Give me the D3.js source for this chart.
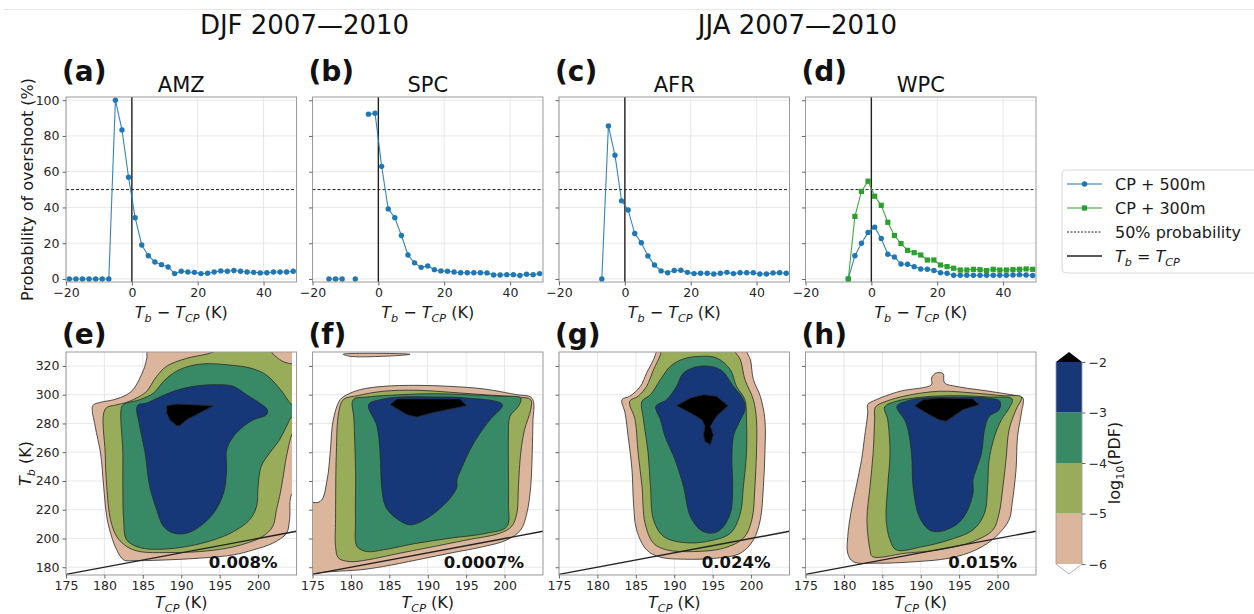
<!DOCTYPE html>
<html><head><meta charset="utf-8">
<script src="https://cdn.jsdelivr.net/npm/d3@7"></script>
<style>body{margin:0;background:#fff;} text{font-family:"DejaVu Sans",sans-serif;}</style>
</head><body><svg id="c" width="1254" height="614"></svg>
<script>
// ---------------- data ----------------
const regions = ["AMZ", "SPC", "AFR", "WPC"];
const topLetters = ["(a)", "(b)", "(c)", "(d)"];
const botLetters = ["(e)", "(f)", "(g)", "(h)"];
const seasonTitles = ["DJF 2007\u20142010", "JJA 2007\u20142010"];
const dT = [-19,-17,-15,-13,-11,-9,-7,-5,-3,-1,1,3,5,7,9,11,13,15,17,19,21,23,25,27,29,31,33,35,37,39,41,43,45,47,49];
const amz500 = [0,0,0,0,0,0,0,100,83.4,56.9,34.3,19,13,9.5,8,6.7,3,4.3,3.9,3.7,3,3.2,3.9,4.5,4.3,4.7,4.3,3.9,3.7,3.4,3.5,3.9,3.9,3.9,4.3];
const spc500 = [null,null,0,0,0,null,0,null,92.2,92.7,63,39.2,34.3,24.3,13.4,9,6.5,7.3,5.2,4.5,4.3,3.9,3.5,3.5,3.5,3.5,3.4,2.2,2.2,2.4,2.4,1.9,2.6,2.4,3];
const afr500 = [null,null,null,null,null,null,0,85.6,69.2,43.7,38.6,25.4,20.3,12.9,7.8,4.5,3.5,4.7,4.9,3.7,3,3.2,3.2,2.8,3.2,3.7,3,3.5,3.5,3.5,2.8,2.8,3.4,3.5,3.2];
const wpc500 = [null,null,null,null,null,null,0,13,20,26,29,22.6,13.8,12.3,8.4,8.2,6.9,5.6,5.4,4.7,3.5,3.2,2.1,2.1,2.1,2.1,2.1,2.1,2.1,2.1,2.1,2.2,2.4,2.2,1.9];
const wpc300 = [null,null,null,null,null,null,0,35,49,54.7,46.3,41.2,31.7,24.3,19.8,16,14.7,13.4,10.6,10.6,7.8,6.9,6,5,5,5.4,5.2,4.7,5.4,5,5,5.2,5.4,5.6,5.4];
const topXTicks = [-20, 0, 20, 40];
const topYTicks = [0, 20, 40, 60, 80, 100];
const botXTicks = [175, 180, 185, 190, 195, 200];
const botYTicks = [180, 200, 220, 240, 260, 280, 300, 320];
const cbTicks = [-6, -5, -4, -3, -2];
const levelColors = ["#dcb69c", "#98ac5a", "#378a65", "#163878", "#000000"];
const fractions = ["0.008%", "0.0007%", "0.024%", "0.015%"];
const legendLabels = ["CP + 500m", "CP + 300m", "50% probability"];
const pdfGridMaxTcp = 204.4; // last T_CP of the PDF grid

// contour rings (T_CP, T_b) per log10(PDF) level: -6, -5, -4, -3, -2
const amzTan = [[178.5,292.4],[179.5,294.7],[181.2,296.5],[182.9,300],[183.8,304],[185.1,317.4],[185.5,324.9],[185.8,332],[207,332],[207,231.5],[204.5,231.5],[204.1,213],[203.7,203.7],[201.9,196.7],[199.4,192.1],[196.8,188.6],[192.4,186.3],[188.1,185.1],[183.8,184.6],[182.5,185.1],[181.6,192.1],[180.8,203.7],[180.3,215.3],[179.9,236.2],[179.5,259.4],[178.8,278]];
const amzOlive = [[180.1,290],[181.6,293],[182.9,294.7],[184.6,298.9],[185.5,302.4],[186.8,312.8],[188.1,319.8],[190.7,325.3],[193.5,328.5],[195.5,332],[201.2,332],[202.2,327],[203.5,322.5],[206,320.6],[207,320],[207,275.4],[205,275.4],[204.5,273.3],[203.7,257.1],[203.2,240.8],[202.8,229.2],[202.4,220],[201.9,208.3],[200.6,201.4],[198.5,196.7],[195.9,193.2],[192.4,190.9],[188.1,190.2],[184.6,190.9],[182.9,194.4],[181.6,201.4],[180.8,213],[180.3,236.2],[180.1,259.4]];
const amzGreen = [[182.3,292.4],[182.9,294.2],[184.6,296.5],[186.4,301.2],[187.7,309.3],[189,315.1],[190.7,319.3],[193,321.5],[196.4,320.6],[199,318.5],[201,314],[203,303],[204.4,293],[206,288.5],[207,287.3],[206,286],[204.4,284.5],[203.7,278],[202.8,268.7],[201.5,259.4],[200.4,250.1],[200,236.2],[199.8,222.3],[198.9,213],[196.8,204.8],[194.2,199],[190.7,194.4],[187.2,192.5],[184.6,193.7],[182.9,199],[182.5,213],[182.4,236.2],[182.4,259.4]];
const amzBlue = [[184.3,292.4],[185.5,294.2],[187.2,298.4],[189,302.4],[191.6,305.8],[194.6,307],[196.8,305.8],[198.5,300],[200.2,294.2],[201.2,289.6],[201.1,286.1],[199.4,282.6],[198.1,278],[196.8,271],[195.9,261.7],[195.9,247.8],[195.5,231.5],[194.2,217.6],[192.4,208.3],[190.7,203.7],[189,203.7],[187.7,208.3],[186.8,220],[185.9,236.2],[185.3,259.4],[184.6,278]];
const amzBlack = [[188.1,292.4],[189.4,293.5],[194.2,292.4],[192.4,287.3],[190.7,282.6],[189.8,278.4],[189.4,278.4],[188.5,282.6],[188.1,287.3]];

const spcTanTop = [[179,328.1],[182.1,328.8],[187.7,328.1],[184.2,326.7],[179.9,326.7]];
const spcTan = [[176,225.7],[176.9,240.8],[177.3,259.4],[177.7,282.6],[178.6,296.5],[179.5,300],[181.2,303.5],[184.2,305.8],[188.6,306.5],[192.9,305.8],[197.3,304],[201.6,300],[203.4,298.4],[203.8,294.2],[203.7,282.6],[203.6,259.4],[203.4,236.2],[202.9,217.6],[202.1,206],[200.3,199],[197.3,194.4],[192.9,189.8],[188.6,185.1],[184.2,180.5],[181.2,178.2],[177.7,177],[175.5,175.8],[173,172],[173,224.6]];
const spcOlive = [[178,213],[178.1,259.4],[178.4,287.3],[179,296.5],[180.8,299.3],[184.2,302.4],[188.6,303.1],[192.9,301.7],[197.3,300],[201.6,298.4],[203.4,296.5],[203.4,289.6],[202.6,275.7],[202.1,259.4],[201.8,236.2],[201.6,217.6],[200.9,208.3],[199.4,203.7],[195.1,199],[190.8,194.4],[186.4,189.8],[182.1,185.1],[179.9,183.9],[178.4,186.3],[178,194.4]];
const spcGreen = [[180.3,296.5],[182.1,298.4],[186.4,300],[190.8,300.7],[195.1,300],[199.4,298.9],[202.1,297.7],[201.8,291.9],[200.7,284.9],[200.5,271],[200.5,247.8],[200.5,224.6],[200.3,208.3],[197.7,203.7],[192.9,200.2],[188.6,196.7],[184.2,192.1],[182.1,190.9],[180.8,194.4],[180.6,213],[180.6,247.8],[180.4,282.6]];
const spcBlue = [[182.3,293.1],[183.8,296.5],[186.4,298.4],[190.8,298.4],[195.1,297.7],[199.7,293.1],[198.1,282.6],[196.8,273.3],[195.5,261.7],[194.5,250.1],[193.8,240.8],[193.8,236.2],[193.4,231.5],[192.1,223.4],[189.9,214.1],[187.7,209.5],[185.6,215.3],[184.5,222.3],[184,236.2],[183.8,259.4],[183.4,278]];
const spcBlack = [[185.1,293.1],[186,297],[194.2,297],[195.1,292.4],[190.8,287.7],[188.6,284.5],[187.3,286.1]];

const afrTan = [[183.2,296.5],[184.2,298.9],[185.6,305.8],[186.4,315.1],[187.3,324.4],[187.7,330.2],[187.9,334],[199.3,334],[199.4,330.2],[199.9,324.4],[200.3,310.5],[201.2,298.9],[201.8,282.6],[201.8,259.4],[201.6,236.2],[201.2,213],[200.3,199],[198.6,189.7],[195.5,186.3],[191.2,185.6],[188.2,187],[186.4,192.1],[185.1,206],[184.7,224.6],[184.5,247.8],[184,271],[183.6,287.3]];
const afrOlive = [[184.2,295.4],[185.3,298.9],[186.4,305.8],[187.3,317.4],[188.2,327.9],[188.4,334],[197.8,334],[197.9,330.2],[198.6,324.4],[199.2,310.5],[200.3,296.5],[200.7,282.6],[200.7,259.4],[200.5,236.2],[200.1,213],[199,200.2],[196.4,193.2],[192.5,190.9],[189,192.1],[187.3,196.7],[186.2,210.6],[185.8,236.2],[185.3,259.4],[184.9,282.6]];
const afrGreen = [[185.8,295.4],[186.9,300],[188.2,310.5],[189.5,319.8],[191.2,324.9],[193.4,326.7],[195.5,325.6],[197.3,317.4],[198.1,305.8],[199.2,296.5],[199.4,282.6],[199.4,259.4],[199,236.2],[198.6,217.6],[197.3,203.7],[194.2,197.9],[191.2,197.2],[188.6,201.4],[187.3,213],[186.9,236.2],[186.6,259.4],[186,282.6]];
const afrBlue = [[187.6,291.9],[189,296.5],[190.3,305.8],[191.2,315.1],[193.4,319.8],[196,317.4],[197.7,305.8],[199,296.5],[199.2,289.6],[198.4,280.3],[197.7,271],[197.5,254.8],[197.6,236.2],[197.3,217.6],[196,206],[194.7,203.7],[193.4,206],[192.1,215.3],[191.2,236.2],[190.1,254.8],[188.8,271],[188.2,282.6]];
const afrBlack = [[190.3,292.4],[192.1,297.7],[193.8,300],[195.5,298.9],[197,292.4],[195.5,285],[194.7,278],[195.1,272.2],[194.7,265.2],[194,267.5],[193.8,272.2],[194,278],[193.6,282.6],[192.1,287.3]];

const wpcTan = [[183.1,293.1],[184.2,296.5],[187.3,302.4],[191.4,307],[191.4,311.6],[192,315.1],[192.9,314.7],[193.1,308.2],[194.6,305.8],[198.9,302.4],[202.4,299.3],[203.3,297.7],[203.1,287.3],[202.6,271],[202.4,247.8],[201.9,224.6],[201.5,213],[199.8,201.4],[197.2,192.1],[193.7,186.3],[189.4,183.9],[184.2,182.8],[181.2,183.9],[180.5,189.7],[180.5,201.4],[180.9,217.6],[181.6,236.2],[182.3,254.8],[182.7,271],[183.1,287.3]];
const wpcOlive = [[184.1,291.4],[185.5,295.4],[188.1,299.3],[192.4,302.4],[196.8,301.2],[200.7,299.3],[203.1,298.4],[202.4,289.6],[201.5,275.7],[201.1,254.8],[200.7,236.2],[200.2,217.6],[199.4,206],[196.8,197.9],[192.4,192.1],[188.1,189.8],[183.7,187.4],[183.4,192.1],[183,213],[183.4,236.2],[183.8,259.4],[184,282.6]];
const wpcGreen = [[185.3,291.4],[186.8,295.4],[190.3,298.4],[194.6,299.3],[198.9,298.4],[201.9,297],[201.5,290.7],[200.5,282.6],[199.6,271],[198.9,254.8],[198.7,236.2],[198.3,217.6],[196.8,206],[193.7,199],[190.3,194.4],[186.8,192.1],[186,199],[185.5,213],[185.7,236.2],[186,259.4],[185.7,282.6]];
const wpcBlue = [[186.9,291.9],[188.1,295.4],[190.3,297.7],[194.6,298.2],[198.9,297.5],[200.3,295.4],[200.2,289.6],[198.9,284.9],[198.3,275.7],[197.9,259.4],[197.2,247.8],[196.8,240.8],[196.8,231.5],[195.9,217.6],[194.6,209.5],[192.4,204.8],[191.1,206],[189.8,215.3],[189,236.2],[188.8,259.4],[188.1,280.3]];
const wpcBlack = [[189.2,292.4],[190.3,296.5],[192.4,297.7],[196.8,297],[197.6,293.1],[195.5,289.6],[193.3,281.5],[192.4,282.6],[191.1,286.1]];

const amzPdf = [[amzTan], [amzOlive], [amzGreen], [amzBlue], [amzBlack]];
const spcPdf = [[spcTan, spcTanTop], [spcOlive], [spcGreen], [spcBlue], [spcBlack]];
const afrPdf = [[afrTan], [afrOlive], [afrGreen], [afrBlue], [afrBlack]];
const wpcPdf = [[wpcTan], [wpcOlive], [wpcGreen], [wpcBlue], [wpcBlack]];

// ---------------- layout ----------------
const svg = d3.select("#c");
const lefts = [66, 312.5, 559, 805.5];
const W = 230.5;
const TOP = {y0: 97, y1: 282};
const BOT = {y0: 352, y1: 575};
const FONT = "DejaVu Sans";
const tickCol = "#262626";
const frameCol = "#9a9a9a";
const gridCol = "#e2e2e2";
const blue = "#1f77b4", green = "#2ca02c";

svg.append("rect").attr("width", 1254).attr("height", 614).attr("fill", "#fff");
svg.append("line").attr("x1", 4).attr("x2", 1254).attr("y1", 9.5).attr("y2", 9.5).attr("stroke", "#e6e6e6").attr("stroke-width", 1);

seasonTitles.forEach((t, i) => {
  const cx = (lefts[2 * i] + lefts[2 * i + 1] + W) / 2;
  svg.append("text").attr("x", cx).attr("y", 34).attr("text-anchor", "middle")
    .attr("font-size", 26).attr("fill", "#111").text(t);
});

function mathText(g, x, y, segs, size, anchor) {
  const t = g.append("text").attr("x", x).attr("y", y).attr("font-size", size)
    .attr("text-anchor", anchor || "middle").attr("fill", "#1a1a1a");
  let shift = 0;
  segs.forEach(s => {
    const sp = t.append("tspan").text(s.t);
    if (s.it) sp.attr("font-style", "italic");
    const want = s.sub ? size * 0.28 : 0;
    if (want !== shift) { sp.attr("dy", want - shift); shift = want; }
    if (s.sub) sp.attr("font-size", size * 0.7);
  });
  return t;
}

function styleAxis(g) {
  g.select(".domain").remove();
  g.selectAll(".tick line").attr("stroke", "#555").attr("stroke-width", 0.9);
  g.selectAll(".tick text").attr("fill", tickCol).attr("font-size", 12.5).attr("font-family", FONT);
}

// ---------------- top panels ----------------
const topSeries = [[amz500], [spc500], [afr500], [wpc500, wpc300]];
const topY = d3.scaleLinear([-1.7, 101.8], [TOP.y1, TOP.y0]);

regions.forEach((reg, i) => {
  const x = d3.scaleLinear([-20, 50], [lefts[i], lefts[i] + W]);
  const g = svg.append("g");
  g.append("rect").attr("x", lefts[i]).attr("y", TOP.y0).attr("width", W).attr("height", TOP.y1 - TOP.y0).attr("fill", "#fff");
  topXTicks.forEach(v => g.append("line").attr("x1", x(v)).attr("x2", x(v)).attr("y1", TOP.y0).attr("y2", TOP.y1).attr("stroke", gridCol).attr("stroke-width", 0.8));
  topYTicks.forEach(v => g.append("line").attr("x1", lefts[i]).attr("x2", lefts[i] + W).attr("y1", topY(v)).attr("y2", topY(v)).attr("stroke", gridCol).attr("stroke-width", 0.8));
  g.append("line").attr("x1", lefts[i]).attr("x2", lefts[i] + W).attr("y1", topY(50)).attr("y2", topY(50))
    .attr("stroke", "#222").attr("stroke-width", 1).attr("stroke-dasharray", "3,2");
  g.append("line").attr("x1", x(0)).attr("x2", x(0)).attr("y1", TOP.y0).attr("y2", TOP.y1).attr("stroke", "#222").attr("stroke-width", 1.4);
  const cp = `clipTop${i}`;
  svg.append("clipPath").attr("id", cp).append("rect").attr("x", lefts[i]).attr("y", TOP.y0 - 4).attr("width", W).attr("height", TOP.y1 - TOP.y0 + 8);
  const sg = g.append("g").attr("clip-path", `url(#${cp})`);
  topSeries[i].forEach((vals, k) => {
    const col = k === 0 ? blue : green;
    const pts = dT.map((d, j) => [d, vals[j]]);
    const line = d3.line().defined(d => d[1] != null).x(d => x(d[0])).y(d => topY(d[1]));
    sg.append("path").attr("d", line(pts)).attr("fill", "none").attr("stroke", col).attr("stroke-width", 1.1).attr("opacity", 0.9);
    const valid = pts.filter(d => d[1] != null);
    if (k === 0) {
      sg.selectAll(null).data(valid).enter().append("circle").attr("cx", d => x(d[0])).attr("cy", d => topY(d[1])).attr("r", 2.7).attr("fill", col);
    } else {
      sg.selectAll(null).data(valid).enter().append("rect").attr("x", d => x(d[0]) - 2.6).attr("y", d => topY(d[1]) - 2.6).attr("width", 5.2).attr("height", 5.2).attr("fill", col);
    }
  });
  g.append("rect").attr("x", lefts[i]).attr("y", TOP.y0).attr("width", W).attr("height", TOP.y1 - TOP.y0).attr("fill", "none").attr("stroke", frameCol).attr("stroke-width", 1);
  const ax = g.append("g").attr("transform", `translate(0,${TOP.y1})`).call(d3.axisBottom(x).tickValues(topXTicks).tickSize(3.5).tickPadding(3));
  styleAxis(ax);
  const ay = g.append("g").attr("transform", `translate(${lefts[i]},0)`).call(d3.axisLeft(topY).tickValues(topYTicks).tickSize(3.5).tickPadding(3).tickFormat(i === 0 ? d3.format("d") : () => ""));
  styleAxis(ay);
  g.append("text").attr("x", lefts[i] + W / 2).attr("y", 92).attr("text-anchor", "middle").attr("font-size", 21).attr("fill", "#111").text(reg);
  g.append("text").attr("x", lefts[i] - 4).attr("y", 81).attr("font-size", 28).attr("font-weight", "bold").attr("fill", "#111").text(topLetters[i]);
  mathText(g, lefts[i] + W / 2, 318, [{t: "T", it: true}, {t: "b", it: true, sub: true}, {t: " \u2212 "}, {t: "T", it: true}, {t: "CP", it: true, sub: true}, {t: " (K)"}], 16);
});
svg.append("text").attr("transform", `translate(27,${(TOP.y0 + TOP.y1) / 2}) rotate(-90)`).attr("text-anchor", "middle")
  .attr("dy", "0.35em").attr("font-size", 16).attr("fill", "#1a1a1a").text("Probability of overshoot (%)");

// legend
const lg = svg.append("g");
lg.append("rect").attr("x", 1062).attr("y", 170).attr("width", 205).attr("height", 103).attr("rx", 4)
  .attr("fill", "#fff").attr("stroke", "#d8d8d8").attr("stroke-width", 1);
const legY = [184, 208, 232, 256];
[blue, green].forEach((c, k) => {
  lg.append("line").attr("x1", 1067).attr("x2", 1102).attr("y1", legY[k]).attr("y2", legY[k]).attr("stroke", c).attr("stroke-width", 1.1);
  if (k === 0) lg.append("circle").attr("cx", 1084.5).attr("cy", legY[k]).attr("r", 2.7).attr("fill", c);
  else lg.append("rect").attr("x", 1084.5 - 2.6).attr("y", legY[k] - 2.6).attr("width", 5.2).attr("height", 5.2).attr("fill", c);
});
lg.append("line").attr("x1", 1067).attr("x2", 1102).attr("y1", legY[2]).attr("y2", legY[2]).attr("stroke", "#222").attr("stroke-width", 1).attr("stroke-dasharray", "2,1.5");
lg.append("line").attr("x1", 1067).attr("x2", 1102).attr("y1", legY[3]).attr("y2", legY[3]).attr("stroke", "#222").attr("stroke-width", 1.6);
legendLabels.forEach((t, k) => lg.append("text").attr("x", 1115).attr("y", legY[k] + 6).attr("font-size", 16).attr("fill", "#1a1a1a").text(t));
mathText(lg, 1115, legY[3] + 6, [{t: "T", it: true}, {t: "b", it: true, sub: true}, {t: " = "}, {t: "T", it: true}, {t: "CP", it: true, sub: true}], 16, "start");

// ---------------- bottom panels ----------------
const pdfs = [amzPdf, spcPdf, afrPdf, wpcPdf];
const botY = d3.scaleLinear([174.6, 329.7], [BOT.y1, BOT.y0]);

regions.forEach((reg, i) => {
  const x = d3.scaleLinear([175, 205], [lefts[i], lefts[i] + W]);
  const g = svg.append("g");
  g.append("rect").attr("x", lefts[i]).attr("y", BOT.y0).attr("width", W).attr("height", BOT.y1 - BOT.y0).attr("fill", "#fff");
  botXTicks.forEach(v => g.append("line").attr("x1", x(v)).attr("x2", x(v)).attr("y1", BOT.y0).attr("y2", BOT.y1).attr("stroke", gridCol).attr("stroke-width", 0.8));
  botYTicks.forEach(v => g.append("line").attr("x1", lefts[i]).attr("x2", lefts[i] + W).attr("y1", botY(v)).attr("y2", botY(v)).attr("stroke", gridCol).attr("stroke-width", 0.8));
  const cp = `clipBot${i}`;
  svg.append("clipPath").attr("id", cp).append("rect").attr("x", lefts[i]).attr("y", BOT.y0).attr("width", x(pdfGridMaxTcp) - lefts[i]).attr("height", BOT.y1 - BOT.y0);
  const cg = g.append("g").attr("clip-path", `url(#${cp})`);
  pdfs[i].forEach((rings, lev) => {
    const line = d3.line().x(d => x(d[0])).y(d => botY(d[1]))
      .curve(lev === 4 ? d3.curveLinearClosed : d3.curveCatmullRomClosed.alpha(0.5));
    rings.forEach(r => {
      cg.append("path").attr("d", line(r)).attr("fill", levelColors[lev])
        .attr("stroke", "#2a2a2a").attr("stroke-width", 0.8).attr("stroke-linejoin", "round");
    });
  });
  g.append("line").attr("x1", x(175)).attr("y1", botY(175)).attr("x2", x(205)).attr("y2", botY(205)).attr("stroke", "#222").attr("stroke-width", 1.4);
  g.append("rect").attr("x", lefts[i]).attr("y", BOT.y0).attr("width", W).attr("height", BOT.y1 - BOT.y0).attr("fill", "none").attr("stroke", frameCol).attr("stroke-width", 1);
  const ax = g.append("g").attr("transform", `translate(0,${BOT.y1})`).call(d3.axisBottom(x).tickValues(botXTicks).tickSize(3.5).tickPadding(3));
  styleAxis(ax);
  const ay = g.append("g").attr("transform", `translate(${lefts[i]},0)`).call(d3.axisLeft(botY).tickValues(botYTicks).tickSize(3.5).tickPadding(3).tickFormat(i === 0 ? d3.format("d") : () => ""));
  styleAxis(ay);
  g.append("text").attr("x", lefts[i] - 4).attr("y", 344).attr("font-size", 28).attr("font-weight", "bold").attr("fill", "#111").text(botLetters[i]);
  g.append("text").attr("x", lefts[i] + W - 19).attr("y", BOT.y1 - 7).attr("text-anchor", "end").attr("font-size", 16.5).attr("font-weight", "bold").attr("fill", "#111").text(fractions[i]);
  mathText(g, lefts[i] + W / 2, 608, [{t: "T", it: true}, {t: "CP", it: true, sub: true}, {t: " (K)"}], 16);
});
mathText(svg.append("g").attr("transform", `translate(31,${(BOT.y0 + BOT.y1) / 2}) rotate(-90)`), 0, 0,
  [{t: "T", it: true}, {t: "b", it: true, sub: true}, {t: " (K)"}], 16);

// ---------------- colorbar ----------------
const cb = svg.append("g");
const cbX = 1056, cbW = 26;
const cbY = d3.scaleLinear([-6, -2], [564, 362]);
levelColors.slice(0, 4).forEach((c, k) => {
  cb.append("rect").attr("x", cbX).attr("y", cbY(cbTicks[k + 1])).attr("width", cbW).attr("height", cbY(cbTicks[k]) - cbY(cbTicks[k + 1])).attr("fill", c);
});
cb.append("path").attr("d", `M${cbX},${cbY(-2)} L${cbX + cbW / 2},${cbY(-2) - 10} L${cbX + cbW},${cbY(-2)} Z`).attr("fill", levelColors[4]);
cb.append("path").attr("d", `M${cbX},${cbY(-6)} L${cbX + cbW / 2},${cbY(-6) + 10} L${cbX + cbW},${cbY(-6)}`).attr("fill", "#fff").attr("stroke", "#999").attr("stroke-width", 0.8);
cb.append("path").attr("d", `M${cbX},${cbY(-6)} L${cbX},${cbY(-2)} M${cbX + cbW},${cbY(-2)} L${cbX + cbW},${cbY(-6)}`).attr("stroke", "#999").attr("stroke-width", 0.8).attr("fill", "none");
const cax = cb.append("g").attr("transform", `translate(${cbX + cbW},0)`).call(d3.axisRight(cbY).tickValues(cbTicks).tickSize(3.5).tickPadding(3).tickFormat(d3.format("d")));
styleAxis(cax);
mathText(cb.append("g").attr("transform", `translate(1120,${cbY(-4)}) rotate(-90)`), 0, 0,
  [{t: "log"}, {t: "10", sub: true}, {t: "(PDF)"}], 16);
</script></body></html>
